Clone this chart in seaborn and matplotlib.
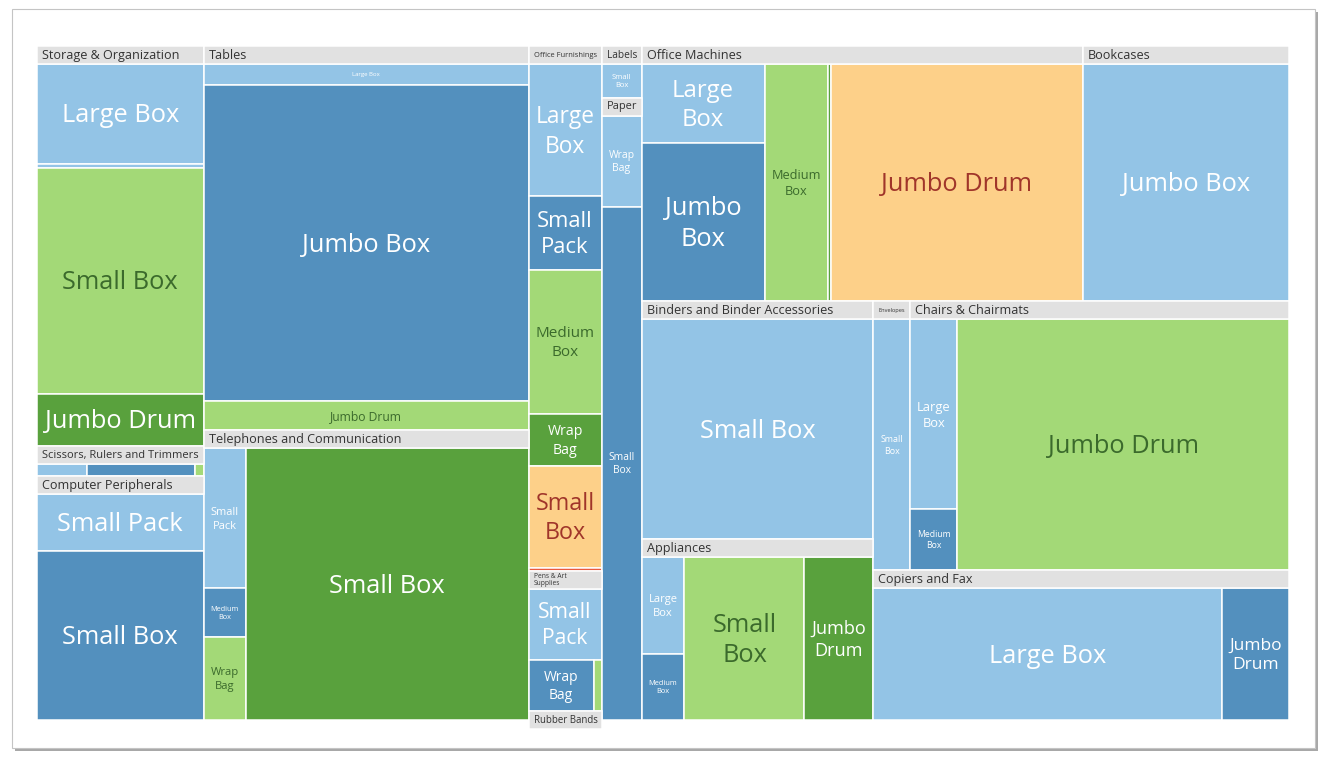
import matplotlib
matplotlib.use("Agg")
import matplotlib.pyplot as plt
from matplotlib.patches import Rectangle
from matplotlib.font_manager import FontProperties
import seaborn as sns

# ---------------- data ----------------
categories = ["Storage & Organization", "Scissors, Rulers and Trimmers", "Computer Peripherals",
              "Tables", "Telephones and Communication",
              "Office Furnishings", "Pens & Art Supplies", "Rubber Bands",
              "Labels", "Paper",
              "Office Machines", "Bookcases",
              "Binders and Binder Accessories", "Appliances",
              "Envelopes", "Chairs & Chairmats", "Copiers and Fax"]

header_labels = ["Storage & Organization", "Scissors, Rulers and Trimmers", "Computer Peripherals",
                 "Tables", "Telephones and Communication",
                 "Office Furnishings", "Pens & Art\nSupplies", "Rubber Bands",
                 "Labels", "Paper",
                 "Office Machines", "Bookcases",
                 "Binders and Binder Accessories", "Appliances",
                 "Envelopes", "Chairs & Chairmats", "Copiers and Fax"]

containers = [
    ["Large Box", "Small Pack", "Small Box", "Jumbo Drum"],
    ["Small Pack", "Small Box", "Wrap Bag"],
    ["Small Pack", "Small Box"],
    ["Large Box", "Jumbo Box", "Jumbo Drum"],
    ["Small Pack", "Medium Box", "Wrap Bag", "Small Box"],
    ["Large Box", "Small Pack", "Medium Box", "Wrap Bag", "Small Box", "Jumbo Drum"],
    ["Small Pack", "Wrap Bag", "Small Box"],
    ["Small Box"],
    ["Small Box"],
    ["Wrap Bag", "Small Box"],
    ["Large Box", "Jumbo Box", "Medium Box", "Small Box", "Jumbo Drum"],
    ["Jumbo Box"],
    ["Small Box"],
    ["Large Box", "Medium Box", "Small Box", "Jumbo Drum"],
    ["Small Box"],
    ["Large Box", "Medium Box", "Jumbo Drum"],
    ["Large Box", "Jumbo Drum"],
]

sales = [
    [173.5, 7.0, 394.9, 89.8],
    [14.9, 32.5, 2.55],
    [104.2, 302.9],
    [69.9, 1080.8, 98.9],
    [62.7, 21.9, 37.0, 819.3],
    [99.8, 55.6, 109.2, 38.9, 77.5, 1.9],
    [59.5, 38.3, 4.4],
    [6.9],
    [20.6],
    [37.5, 211.5],
    [104.5, 209.8, 162.2, 6.4, 645.1],
    [526.3],
    [551.0],
    [46.3, 31.5, 217.2, 124.9],
    [98.0],
    [96.5, 31.0, 890.1],
    [523.5, 99.8],
]

shade = [
    [0, 0, 2, 3],
    [0, 1, 2],
    [0, 1],
    [0, 1, 2],
    [0, 1, 2, 3],
    [0, 1, 2, 3, 4, 5],
    [0, 1, 2],
    [0],
    [0],
    [0, 1],
    [0, 1, 2, 3, 4],
    [0],
    [0],
    [0, 1, 2, 3],
    [0],
    [0, 1, 2],
    [0, 1],
]

# ---------------- layout structure (nested slices, sized by values) ----------------
top_layout = ("h", [("v", [0, 1, 2]), ("v", [3, 4]), ("v", [5, 6, 7]), ("v", [8, 9]),
                    ("v", [("h", [10, 11]),
                           ("h", [("v", [12, 13]),
                                  ("v", [("h", [14, 15]), 16])])])])

child_layouts = [
    ("v", [0, 1, 2, 3]),
    ("h", [0, 1, 2]),
    ("v", [0, 1]),
    ("v", [0, 1, 2]),
    ("h", [("v", [0, 1, 2]), 3]),
    ("v", [0, 1, 2, 3, 4, 5]),
    ("v", [0, ("h", [1, 2])]),
    ("v", [0]),
    ("v", [0]),
    ("v", [0, 1]),
    ("h", [("v", [0, 1]), 2, 3, 4]),
    ("v", [0]),
    ("v", [0]),
    ("h", [("v", [0, 1]), 2, 3]),
    ("v", [0]),
    ("h", [("v", [0, 1]), 2]),
    ("h", [0, 1]),
]

# ---------------- styling ----------------
sns.set_theme(style="white")
plt.rcParams['font.family'] = ['Open Sans', 'DejaVu Sans']

palette = sns.color_palette(["#93C4E6", "#5390BE", "#A3D977", "#59A13D", "#FDD089", "#E8593F"])
text_colors = ["white", "white", "#3B6A2C", "white", "#A0352A", "white"]
HEADER_BG = "#E1E1E1"
HEADER_FG = "#333333"
HEADER = 18.0
PADX, PADY, LH = 7.0, 6.0, 1.4
MAXPT = 18.3
HDR_MAXPT = 9.1


def node_total(node, vals):
    if isinstance(node, int):
        return vals[node]
    return sum(node_total(k, vals) for k in node[1])


def place(node, x, y, w, h, vals, out):
    if isinstance(node, int):
        out.append((node, x, y, w, h))
        return
    orient, kids = node
    tot = node_total(node, vals)
    pos = 0.0
    for k in kids:
        f = node_total(k, vals) / tot
        if orient == "h":
            place(k, x + pos * w, y, w * f, h, vals, out)
        else:
            place(k, x, y + pos * h, w, h * f, vals, out)
        pos += f


DPI = 100
fig = plt.figure(figsize=(13.27, 7.64), dpi=DPI)
fig.patch.set_facecolor("white")

# card frame with shadow
x0, y0 = 12 / 1327, 1 - 748 / 764
fw, fh = 1303 / 1327, 739 / 764
fig.patches.append(Rectangle((x0 + 2.5 / 1327, y0 - 2.5 / 764), fw, fh, transform=fig.transFigure,
                             facecolor="#A8A8A8", edgecolor="none", zorder=-3))
fig.patches.append(Rectangle((x0 + 1.2 / 1327, y0 - 1.2 / 764), fw, fh, transform=fig.transFigure,
                             facecolor="#CFCFCF", edgecolor="none", zorder=-2))
fig.patches.append(Rectangle((x0, y0), fw, fh, transform=fig.transFigure,
                             facecolor="white", edgecolor="#C4C4C4", linewidth=0.8, zorder=-1))

ax_rect = [37 / 1327, 44 / 764, 1252 / 1327, 674 / 764]
ax = fig.add_axes(ax_rect)
W = fig.get_figwidth() * DPI * ax_rect[2]
H = fig.get_figheight() * DPI * ax_rect[3]
ax.set_xlim(0, W)
ax.set_ylim(H, 0)
ax.axis("off")

renderer = fig.canvas.get_renderer()
ref_prop = FontProperties(family="Open Sans", size=10)
px_per_pt = DPI / 72.0


def text_w(s):
    w, h, d = renderer.get_text_width_height_descent(s, ref_prop, ismath=False)
    return w


def fit_lines(options, w, h, maxpt, padx, pady, lh):
    best = None
    for lines in options:
        wid = max(text_w(l) for l in lines)
        s_w = 10.0 * (w - 2 * padx) / wid
        s_h = (h - 2 * pady) / (len(lines) * lh * px_per_pt)
        s = min(maxpt, s_w, s_h)
        if best is None or s > best[0] + 1e-6:
            best = (s, lines)
    return best


cat_totals = [sum(v) for v in sales]
cat_rects = []
place(top_layout, 0, 0, W, H, cat_totals, cat_rects)

for ci, x, y, w, h in cat_rects:
    # header strip
    ax.add_patch(Rectangle((x, y), w, HEADER, facecolor=HEADER_BG, edgecolor="white",
                           linewidth=1.1, clip_on=False, zorder=2))
    hlines = header_labels[ci].split("\n")
    s, lines = fit_lines([hlines], w, HEADER, HDR_MAXPT, 5.0, 1.0, 1.2)
    ax.text(x + 5, y + HEADER / 2 + 0.5, "\n".join(lines), ha="left", va="center",
            fontsize=s, color=HEADER_FG, linespacing=0.95, clip_on=False, zorder=3)
    # children
    ch = h - HEADER
    if ch <= 0:
        continue
    leaves = []
    place(child_layouts[ci], x, y + HEADER, w, ch, sales[ci], leaves)
    for li, lx, ly, lw, lh_ in leaves:
        c = shade[ci][li]
        ax.add_patch(Rectangle((lx, ly), lw, lh_, facecolor=palette[c], edgecolor="white",
                               linewidth=1.1, zorder=1))
        name = containers[ci][li]
        words = name.split()
        opts = [[name]]
        if len(words) > 1:
            opts.append([words[0], " ".join(words[1:])])
        if lw - 2 * PADX <= 0 or lh_ - 2 * PADY <= 0:
            continue
        s, lines = fit_lines(opts, lw, lh_, MAXPT, PADX, PADY, LH)
        if s < 3.0:
            continue
        ax.text(lx + lw / 2, ly + lh_ / 2 + 0.08 * s * px_per_pt, "\n".join(lines),
                ha="center", va="center", multialignment="center", fontsize=s,
                color=text_colors[c], linespacing=1.3, zorder=4)

fig.savefig("out.png", dpi=DPI)
